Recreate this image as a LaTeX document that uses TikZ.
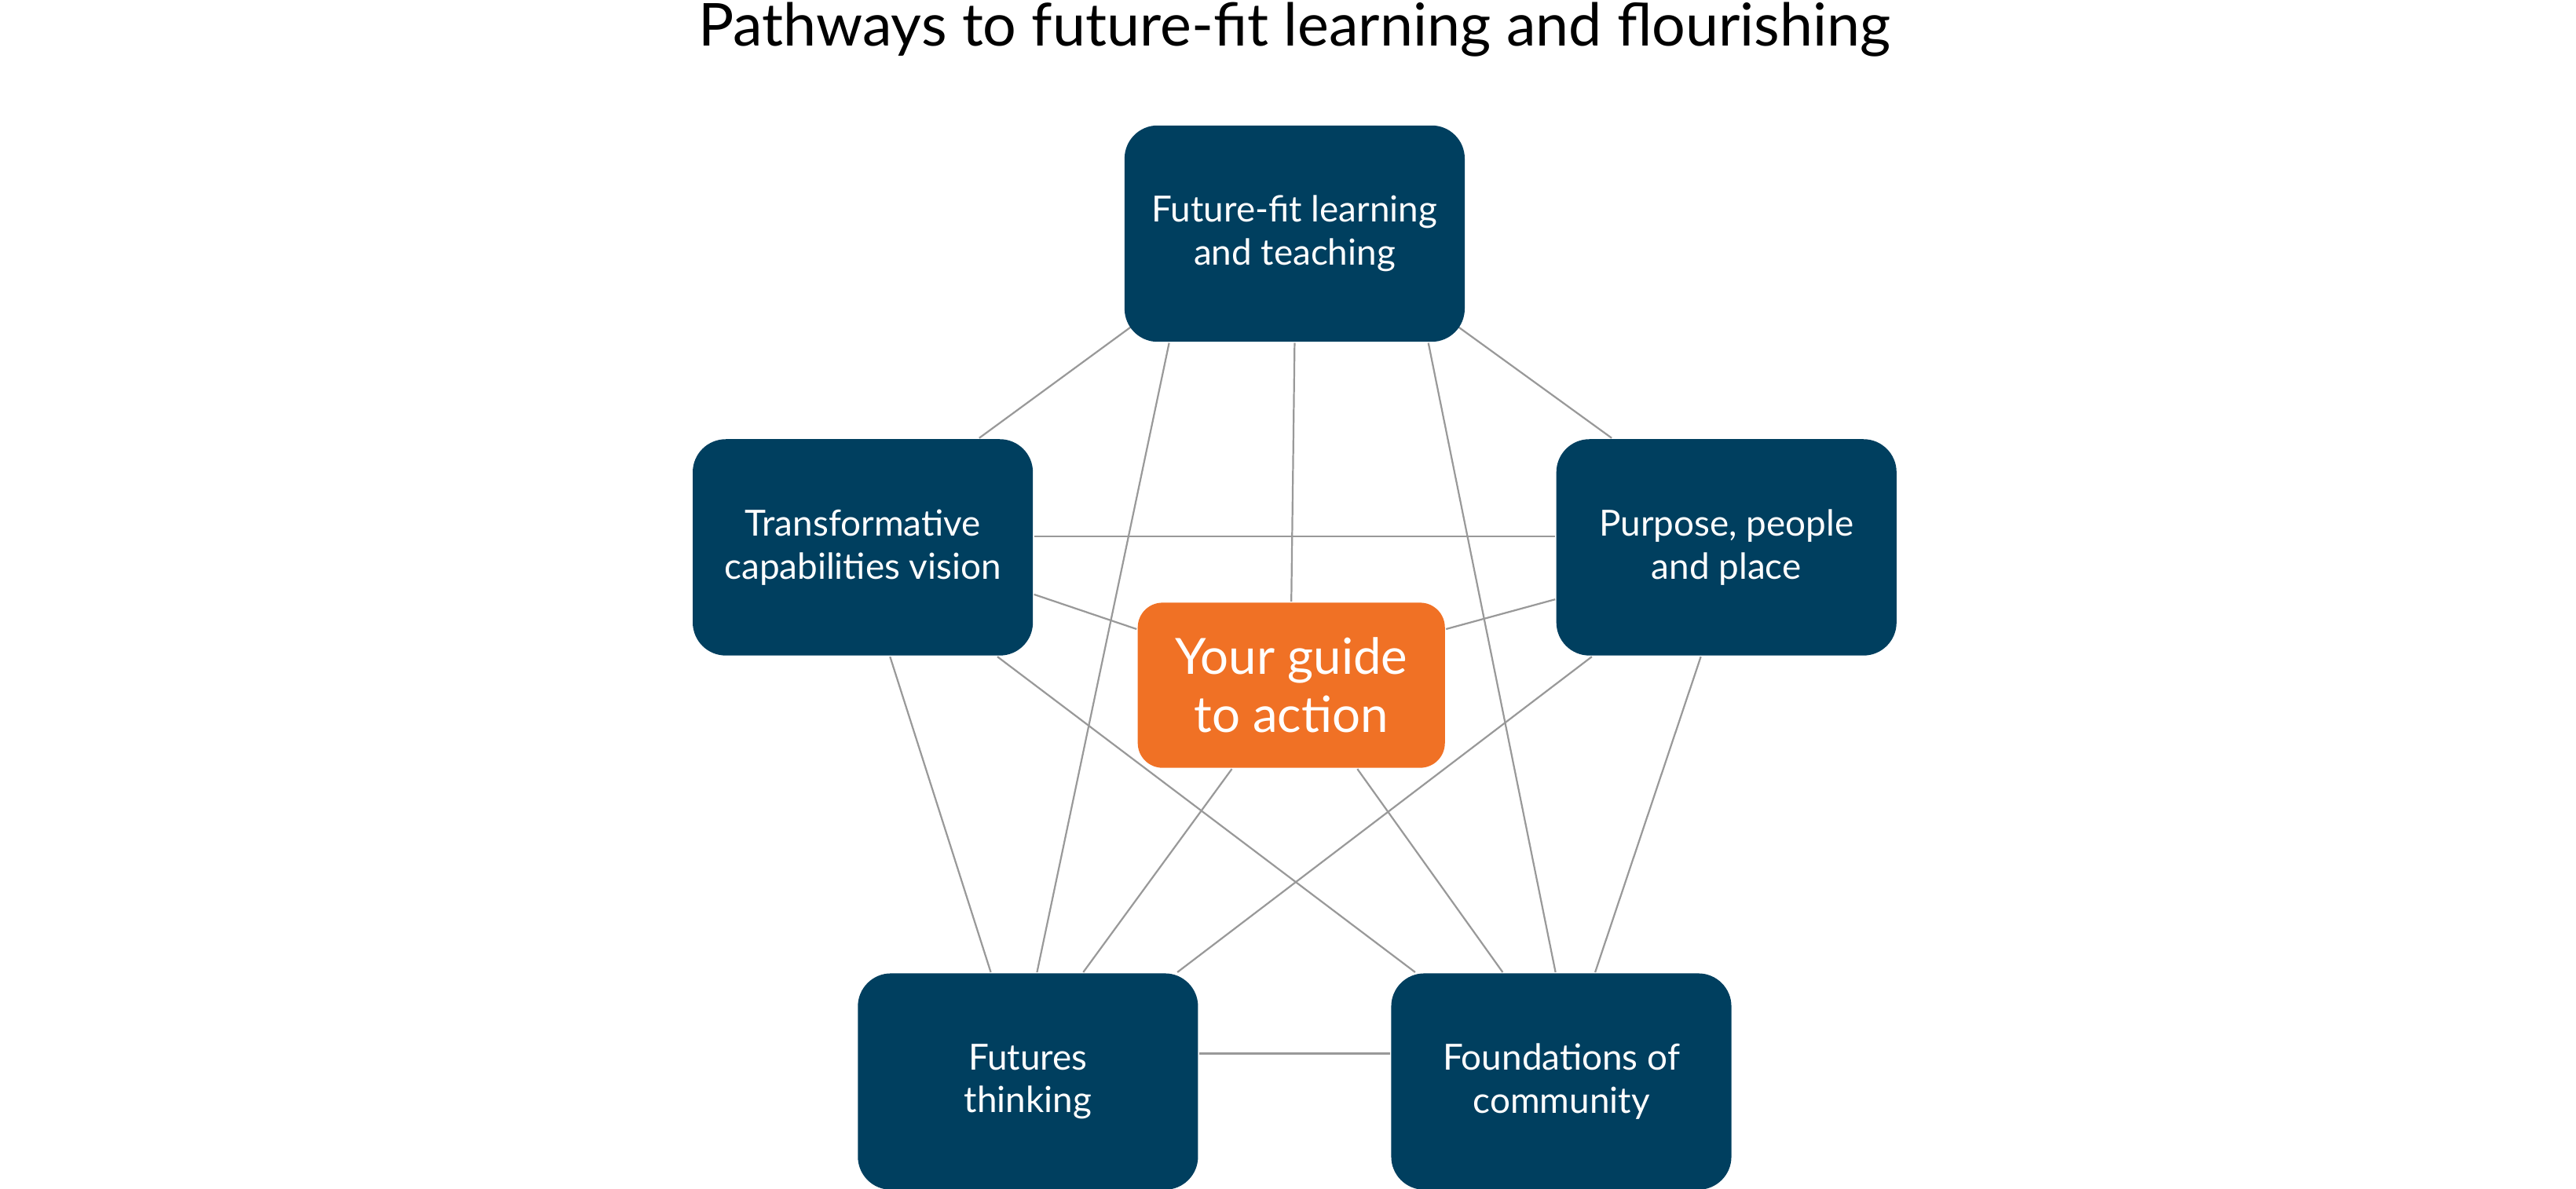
\documentclass[tikz,border=0pt]{standalone}
\usepackage{fontspec}
\setmainfont{Lato}
\usetikzlibrary{positioning,backgrounds}
\definecolor{pathblue}{HTML}{003F5F}
\definecolor{guideorange}{HTML}{F07125}
\tikzset{path node/.style={rectangle,rounded corners=2mm,fill=pathblue,draw=none,
           minimum width=20.6mm,minimum height=13.1mm,align=center,text=white,
           font=\fontsize{6.2}{7.4}\selectfont},
         guide node/.style={rectangle,rounded corners=1.5mm,fill=guideorange,draw=none,
           minimum width=18.6mm,minimum height=10mm,align=center,text=white,
           font=\fontsize{8.6}{10}\selectfont},
         link/.style={draw=black!40,line width=0.3pt}
}
\begin{document}
\begin{tikzpicture}[x=1mm,y=1mm]
\useasboundingbox (0,0) rectangle (156,72);
\node [font=\fontsize{10.2}{12}\selectfont] (title) at (78.4,70.2) {Pathways to future-fit learning and flourishing};
\node [path node] (teach) at (78.4,57.85) {Future-fit learning\\and teaching};
\node [path node] (vision) at (52.25,38.85) {Transformative\\capabilities vision};
\node [path node] (purpose) at (104.55,38.85) {Purpose, people\\and place};
\node [path node] (futures) at (62.25,6.5) {Futures\\thinking};
\node [path node] (found) at (94.55,6.5) {Foundations of\\community};
\node [guide node] (guide) at (78.2,30.5) {Your guide\\to action};
% connectors
\begin{scope}[on background layer]
\draw [link] ([xshift=0.5mm,yshift=1mm]teach.south west) -- ([xshift=7.05mm]vision.north);
\draw [link] ([xshift=-0.5mm,yshift=1mm]teach.south east) -- ([xshift=-6.95mm]purpose.north);
\draw [link] (teach.south) -- (guide.north);
\draw [link] ([xshift=-7.6mm]teach.south) -- ([xshift=0.55mm]futures.north);
\draw [link] ([xshift=8.1mm]teach.south) -- ([xshift=-0.35mm]found.north);
\draw [link] ([yshift=0.65mm]vision.east) -- ([yshift=0.65mm]purpose.west);
\draw [link] ([yshift=-2.85mm]vision.east) -- ([yshift=3.4mm]guide.west);
\draw [link] ([yshift=-3.15mm]purpose.west) -- ([yshift=3.4mm]guide.east);
\draw [link] ([xshift=1.65mm]vision.south) -- ([xshift=-2.25mm]futures.north);
\draw [link] ([xshift=8.15mm]vision.south) -- ([xshift=-8.85mm]found.north);
\draw [link] ([xshift=-8.15mm]purpose.south) -- ([xshift=9.05mm]futures.north);
\draw [link] ([xshift=-1.55mm]purpose.south) -- ([xshift=2.05mm]found.north);
\draw [link] ([xshift=-3.6mm]guide.south) -- ([xshift=3.35mm]futures.north);
\draw [link] ([xshift=4mm]guide.south) -- ([xshift=-3.55mm]found.north);
\draw [link] ([yshift=1.7mm]futures.east) -- ([yshift=1.7mm]found.west);
\end{scope}
\end{tikzpicture}
\end{document}
